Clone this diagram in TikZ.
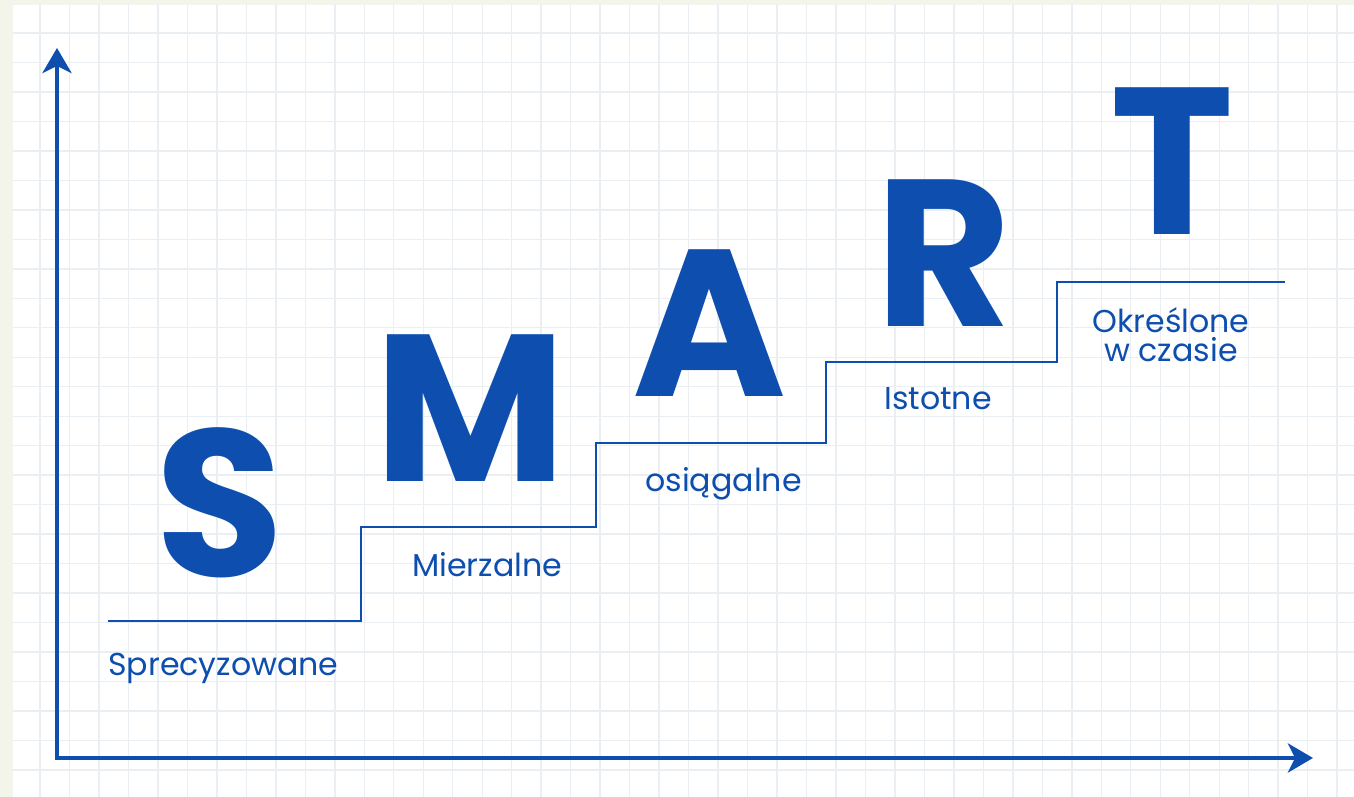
\documentclass[tikz,border=0pt]{standalone}
\usepackage{fontspec}
\usetikzlibrary{positioning, calc, arrows.meta}

\newfontfamily\letterfont{Poppins}
\newfontfamily\handfont{Poppins}

\definecolor{smartblue}{HTML}{0D4EAE}
\definecolor{paper}{HTML}{F3F4EA}
\definecolor{gridline}{HTML}{EAEFF4}

\begin{document}
\begin{tikzpicture}[
			letter/.style={anchor=base, inner sep=0pt, text depth=0pt, text=smartblue, font=\letterfont\bfseries\fontsize{119}{119}\selectfont},
			lab/.style={anchor=base west, inner sep=0pt, text=smartblue, font=\handfont\fontsize{18}{16.5}\selectfont},
			axis/.style={{Stealth[length=0.5cm, width=0.58cm, inset=0.14cm]}-{Stealth[length=0.5cm, width=0.58cm, inset=0.14cm]}, line width=0.08cm, draw=smartblue, line join=miter},
			stair/.style={draw=smartblue, line width=0.055cm},
		]
			% paper and grid
			\fill[paper] (0,0) rectangle (27.08,15.94);
			\fill[white] (0.26,0) rectangle (27.08,15.84);
			\begin{scope}
				\clip (0.26,0) rectangle (27.08,15.84);
				\foreach \i in {0,...,44}
					\draw[gridline, line width=0.8pt] ({0.80+0.5896*\i},0) -- ++(0,15.94);
				\foreach \j in {0,...,26}
					\draw[gridline, line width=0.8pt] (0,{15.28-0.5896*\j}) -- ++(27.08,0);
			\end{scope}
			\useasboundingbox (0,0) rectangle (27.08,15.94);

			% axes
			\coordinate (origin) at (1.14,0.78);
			\coordinate (ytop) at (1.14,14.98);
			\coordinate (xend) at (26.26,0.78);
			\draw[axis] (ytop) -- (origin) -- (xend);

			% stairs
			\draw[stair] (2.16,3.52) -| (7.22,5.40) -| (11.92,7.08) -| (16.52,8.70) -| (21.14,10.30) -- (25.70,10.30);

			% letters
			\node[letter] (S) at (4.40,4.40) {S};
			\node[letter] (M) at (9.40,6.30) {M};
			\node[letter] (A) at (14.20,8.00) {A};
			\node[letter] (R) at (18.88,9.40) {R};
			\node[letter] (T) at (23.44,11.24) {T};

			% labels
			\node[lab] (spec) at (2.16,2.42) {Sprecyzowane};
			\node[lab] (mier) at (8.24,4.40) {Mierzalne};
			\node[lab] (osia) at (12.90,6.10) {osiągalne};
			\node[lab] (isto) at (17.68,7.74) {Istotne};
			\node[lab, anchor=north, align=center] (okre) at (23.42,9.80) {Określone\\w czasie};
		\end{tikzpicture}
\end{document}
